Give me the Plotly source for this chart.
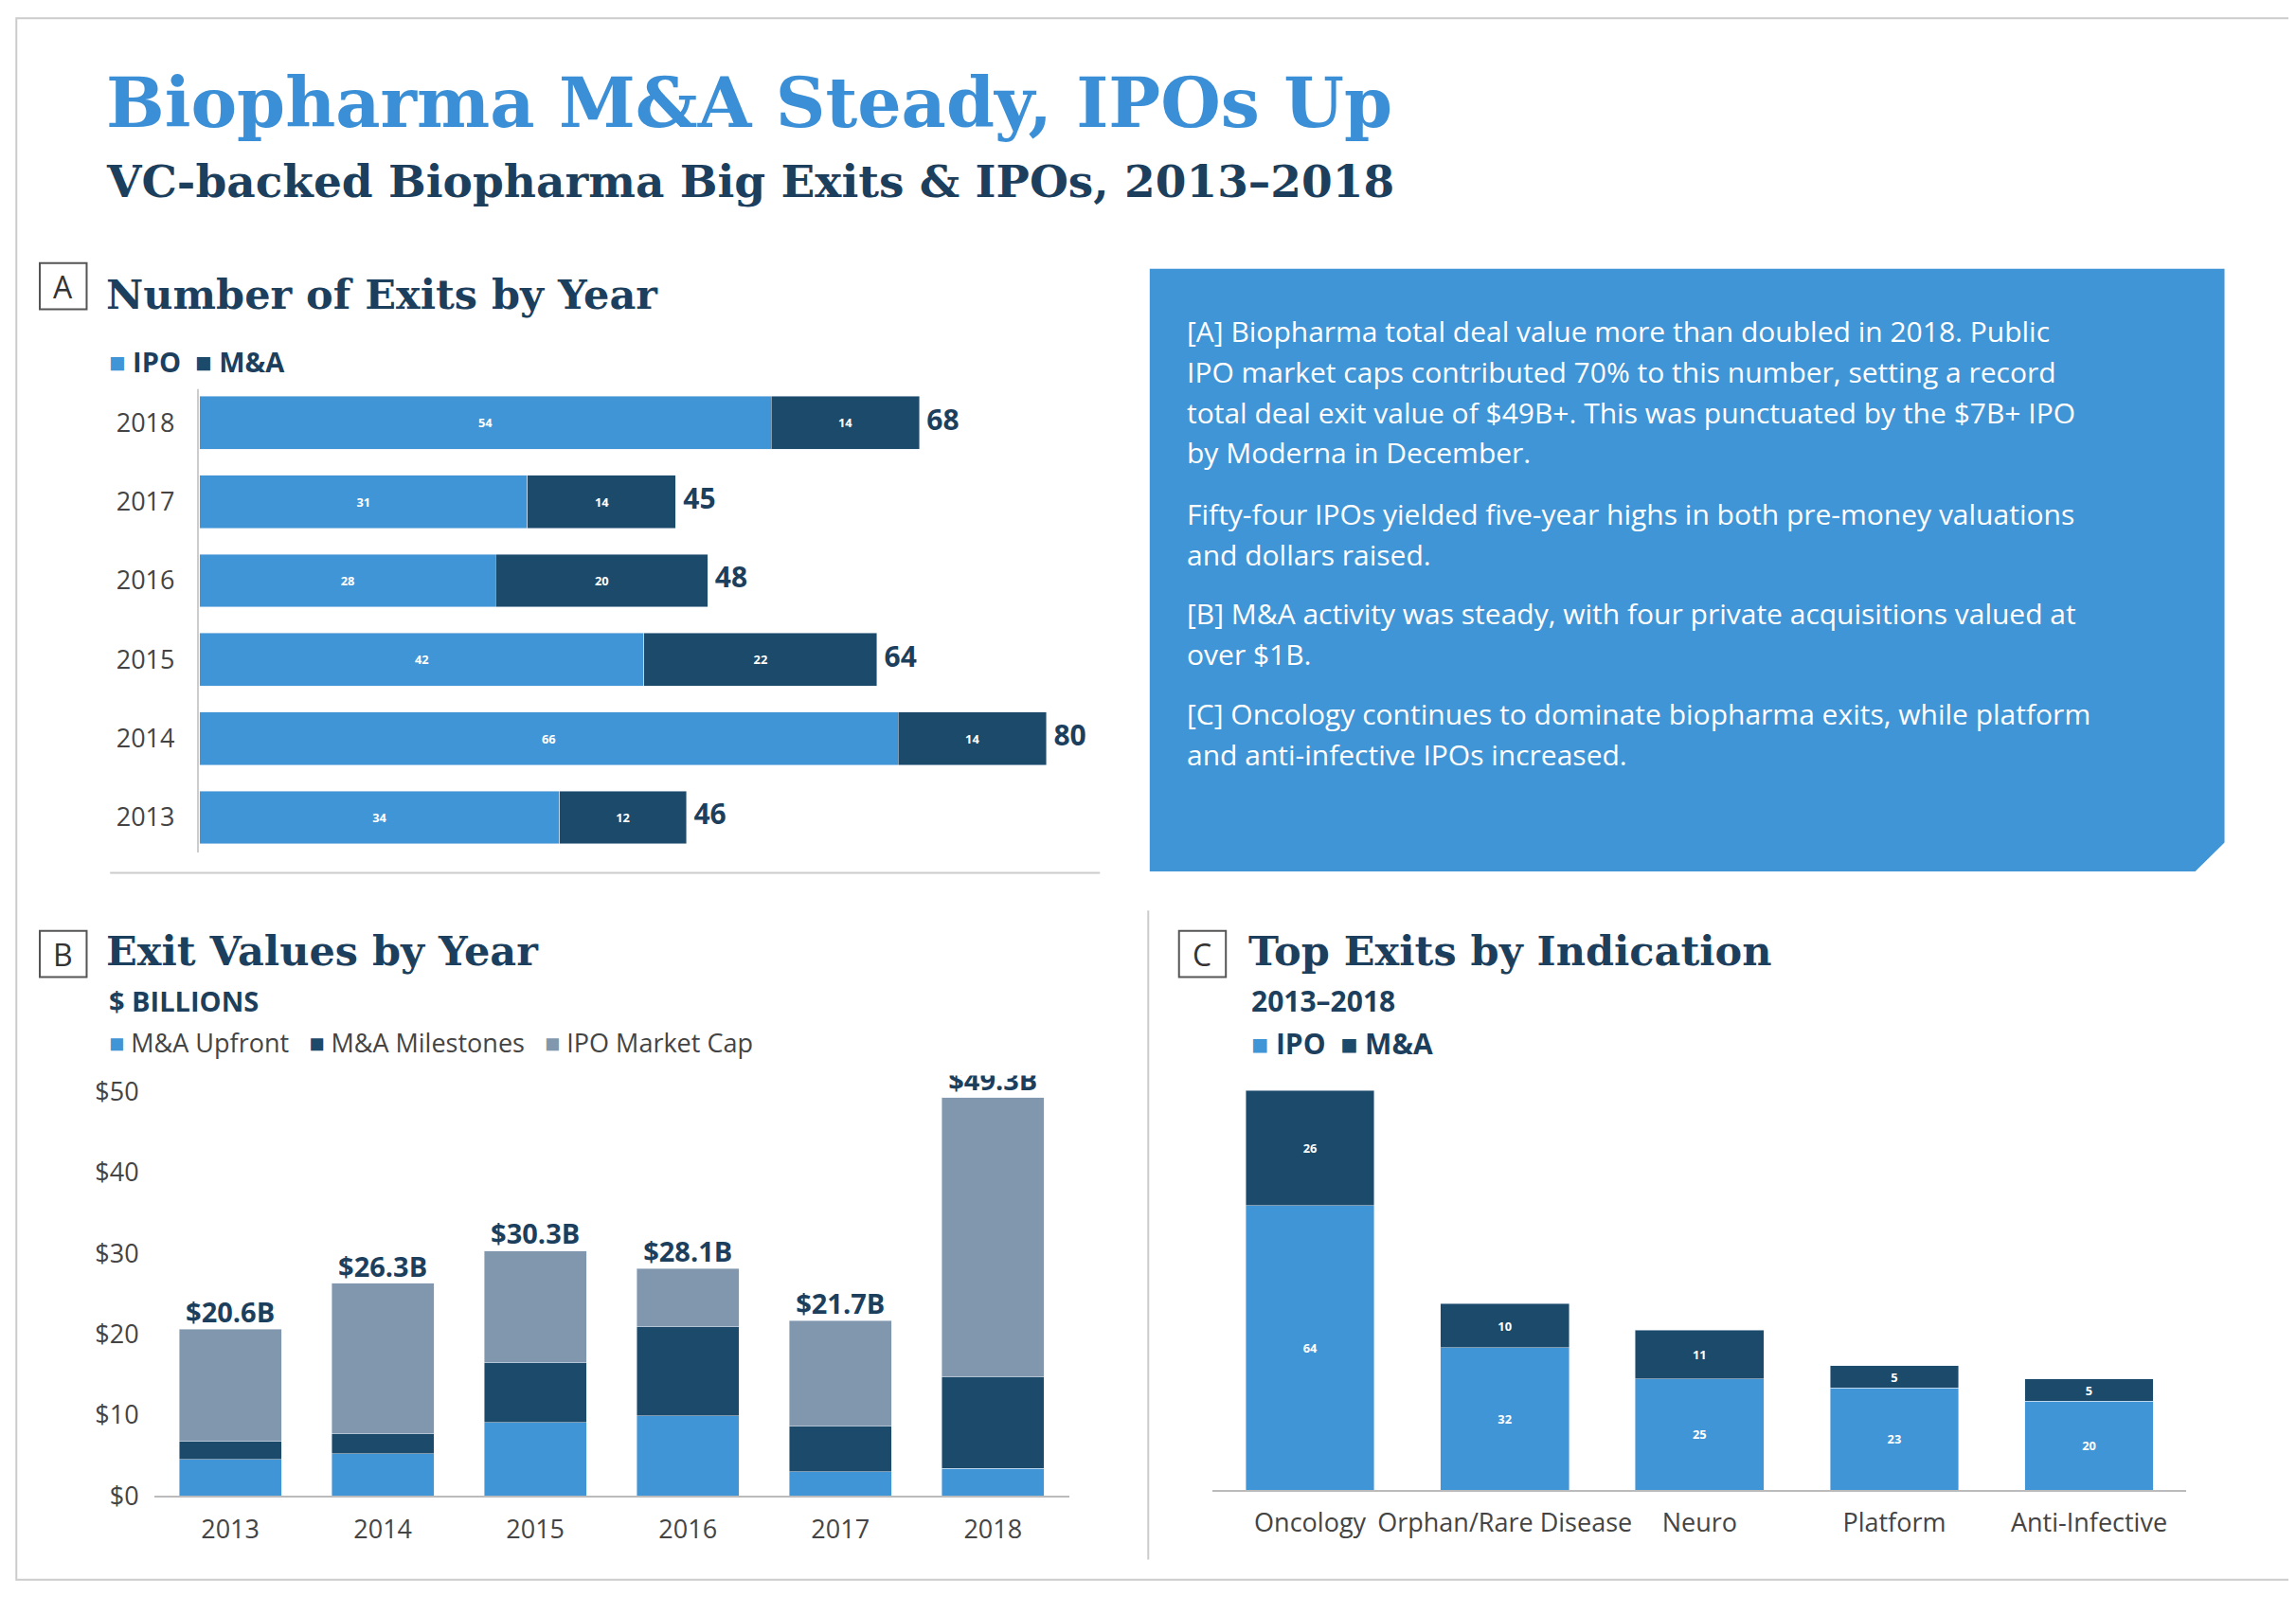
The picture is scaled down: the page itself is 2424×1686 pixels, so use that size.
import plotly.graph_objects as go

# ---- data ----
years_a = ["2013", "2014", "2015", "2016", "2017", "2018"]
ipo_a = [34, 66, 42, 28, 31, 54]
ma_a = [12, 14, 22, 20, 14, 14]

years_b = ["2013", "2014", "2015", "2016", "2017", "2018"]
ma_upfront = [4.5, 5.2, 9.1, 9.9, 3.0, 3.4]
ma_milestones = [2.3, 2.5, 7.4, 11.1, 5.6, 11.3]
totals_b = [20.6, 26.3, 30.3, 28.1, 21.7, 49.3]
ipo_cap = [t - u - m for t, u, m in zip(totals_b, ma_upfront, ma_milestones)]
ytick_b = [0, 10, 20, 30, 40, 50]
ytick_b_text = ["$0", "$10", "$20", "$30", "$40", "$50"]

indications = ["Oncology", "Orphan/Rare Disease", "Neuro", "Platform", "Anti-Infective"]
ipo_c = [64, 32, 25, 23, 20]
ma_c = [26, 10, 11, 5, 5]

LIGHT = "#3f95d6"
DARK = "#1b4a6b"
GRAY = "#8197ad"
NAVY = "#1d3f5e"
FONT = "Open Sans"
SERIF = "DejaVu Serif"

W, H = 2424, 1686


def px(x):
    return x / 1568


def py(y):
    return 1 - y / 1090


fig = go.Figure()

barfont = dict(color="white", size=28, family=FONT)

# panel A
fig.add_trace(go.Bar(y=years_a, x=ipo_a, orientation="h", marker_color=LIGHT, width=0.67,
                     text=[f"<b>{v}</b>" for v in ipo_a], textposition="inside", insidetextanchor="middle",
                     textangle=0, textfont=barfont, xaxis="x", yaxis="y"))
fig.add_trace(go.Bar(y=years_a, x=ma_a, orientation="h", marker_color=DARK, width=0.67,
                     text=[f"<b>{v}</b>" for v in ma_a], textposition="inside", insidetextanchor="middle",
                     textangle=0, textfont=barfont, xaxis="x", yaxis="y"))
fig.add_trace(go.Scatter(y=years_a, x=[i + m for i, m in zip(ipo_a, ma_a)], mode="text",
                         text=[f" <b>{i + m}</b>" for i, m in zip(ipo_a, ma_a)], textposition="middle right",
                         textfont=dict(color=NAVY, size=30, family=FONT), xaxis="x", yaxis="y"))

# panel B
for vals, col in [(ma_upfront, LIGHT), (ma_milestones, DARK), (ipo_cap, GRAY)]:
    fig.add_trace(go.Bar(x=years_b, y=vals, marker_color=col, width=0.67, xaxis="x2", yaxis="y2"))
fig.add_trace(go.Scatter(x=years_b, y=totals_b, mode="text", text=[f"<b>${t}B</b>" for t in totals_b],
                         textposition="top center", textfont=dict(color=NAVY, size=29, family=FONT),
                         xaxis="x2", yaxis="y2"))

# panel C
fig.add_trace(go.Bar(x=indications, y=ipo_c, marker_color=LIGHT, width=0.66, text=[f"<b>{v}</b>" for v in ipo_c],
                     textposition="inside", insidetextanchor="middle", textangle=0,
                     textfont=barfont, xaxis="x3", yaxis="y3"))
fig.add_trace(go.Bar(x=indications, y=ma_c, marker_color=DARK, width=0.66, text=[f"<b>{v}</b>" for v in ma_c],
                     textposition="inside", insidetextanchor="middle", textangle=0,
                     textfont=barfont, xaxis="x3", yaxis="y3"))

tick = dict(family=FONT, size=27, color="#444")
fig.update_layout(
    width=W, height=H, barmode="stack", showlegend=False,
    paper_bgcolor="white", plot_bgcolor="white",
    margin=dict(l=0, r=0, t=0, b=0),
    uniformtext=dict(mode="show", minsize=10),
    xaxis=dict(domain=[px(131), px(760)], range=[0, 87], visible=False, anchor="y"),
    yaxis=dict(domain=[py(585), py(258)], tickfont=tick, ticks="", showgrid=False,
               showline=False, ticklabelstandoff=25, anchor="x"),
    xaxis2=dict(domain=[px(100), px(725)], tickfont=tick, showline=True, linecolor="#bbb",
                linewidth=2, ticks="", anchor="y2", ticklabelstandoff=10),
    yaxis2=dict(domain=[py(1026), py(736)], range=[0, 52], tickvals=ytick_b, ticktext=ytick_b_text,
                tickfont=tick, showgrid=False, zeroline=False, anchor="x2", ticklabelstandoff=15),
    xaxis3=dict(domain=[px(823), px(1488)], tickfont=tick, showline=True, linecolor="#bbb",
                linewidth=2, ticks="", anchor="y3", ticklabelstandoff=10),
    yaxis3=dict(domain=[py(1022), py(740)], range=[0, 92], visible=False, anchor="x3"),
)

ann = []


def txt(x, y, t, size, color=NAVY, family=FONT, anchor="left"):
    ann.append(dict(x=px(x), y=py(y), xref="paper", yref="paper", text=t, showarrow=False,
                    xanchor=anchor, yanchor="middle", font=dict(size=size, color=color, family=family)))


txt(66, 64, "<b>Biopharma M&A Steady, IPOs Up</b>", 73, "#3a8fd6", SERIF)
txt(66, 119, "<b>VC-backed Biopharma Big Exits & IPOs, 2013–2018</b>", 47, NAVY, SERIF)

txt(66, 197, "<b>Number of Exits by Year</b>", 43, NAVY, SERIF)
txt(66, 650, "<b>Exit Values by Year</b>", 43, NAVY, SERIF)
txt(846, 650, "<b>Top Exits by Indication</b>", 43, NAVY, SERIF)
for x, y, l in [(38, 191, "A"), (38, 652, "B"), (816, 652, "C")]:
    txt(x, y, l, 32, "#333", FONT, "center")

txt(68, 243, f"<span style='color:{LIGHT}'>■</span> <b>IPO</b>  <span style='color:{DARK}'>■</span> <b>M&A</b>", 29)
txt(68, 684, "<b>$ BILLIONS</b>", 29)
txt(68, 713, f"<span style='color:{LIGHT}'>■</span> M&A Upfront   <span style='color:{DARK}'>■</span> M&A Milestones   "
    f"<span style='color:{GRAY}'>■</span> IPO Market Cap", 27, "#444")
txt(848, 684, "<b>2013–2018</b>", 30)
txt(848, 714, f"<span style='color:{LIGHT}'>■</span> <b>IPO</b>  <span style='color:{DARK}'>■</span> <b>M&A</b>", 30)

lines = [
    (222, "[A] Biopharma total deal value more than doubled in 2018. Public"),
    (250, "IPO market caps contributed 70% to this number, setting a record"),
    (278, "total deal exit value of $49B+. This was punctuated by the $7B+ IPO"),
    (306, "by Moderna in December."),
    (348, "Fifty-four IPOs yielded five-year highs in both pre-money valuations"),
    (376, "and dollars raised."),
    (417, "[B] M&A activity was steady, with four private acquisitions valued at"),
    (445, "over $1B."),
    (486, "[C] Oncology continues to dominate biopharma exits, while platform"),
    (514, "and anti-infective IPOs increased."),
]
for y, t in lines:
    txt(804, y, t, 30, "white")

shapes = [
    dict(type="path", xref="paper", yref="paper", fillcolor=LIGHT, line=dict(width=0), layer="below",
         path=f"M {px(780)},{py(179)} L {px(1514)},{py(179)} L {px(1514)},{py(575)} "
              f"L {px(1494)},{py(595)} L {px(780)},{py(595)} Z"),
    dict(type="line", xref="paper", yref="paper", x0=px(70), x1=px(746), y0=py(596), y1=py(596),
         line=dict(color="#ccc", width=2)),
    dict(type="line", xref="paper", yref="paper", x0=px(779), x1=px(779), y0=py(622), y1=py(1070),
         line=dict(color="#ccc", width=2)),
    dict(type="rect", xref="paper", yref="paper", x0=px(6), x1=px(1562), y0=py(6), y1=py(1084),
         line=dict(color="#ccc", width=2)),
    dict(type="line", xref="paper", yref="paper", x0=px(130), x1=px(130), y0=py(262), y1=py(582),
         line=dict(color="#ccc", width=2)),
]
for x, y in [(38, 191), (38, 652), (816, 652)]:
    shapes.append(dict(type="rect", xref="paper", yref="paper", x0=px(x - 16), x1=px(x + 16),
                       y0=py(y - 16), y1=py(y + 16), line=dict(color="#555", width=2)))

fig.update_layout(annotations=ann, shapes=shapes)
fig.write_html("out.html")
